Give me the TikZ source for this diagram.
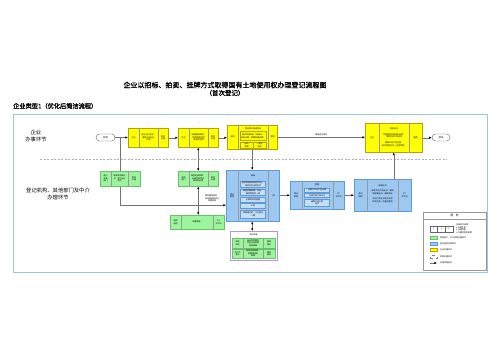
\documentclass[tikz,border=0pt]{standalone}
\usepackage{fontspec}
\setmainfont{Noto Sans CJK SC}
\newfontfamily\cjkbold{Noto Sans CJK SC}[FakeBold=1.5]
\usetikzlibrary{arrows.meta}
\definecolor{fyel}{HTML}{FFFF00}
\definecolor{dyel}{HTML}{B5A300}
\definecolor{fgrn}{HTML}{9CF59C}
\definecolor{dgrn}{HTML}{6CBF6C}
\definecolor{fblu}{HTML}{9DC8F2}
\definecolor{dblu}{HTML}{5E9BD6}
\definecolor{frm}{HTML}{9DC3E6}
\definecolor{lav}{HTML}{B896C8}
\newcommand{\tinyf}{\fontsize{2}{2.5}\selectfont}
\tikzset{
 ybox/.style={draw=dyel,fill=fyel,line width=0.5pt,inner sep=0pt},
 gbox/.style={draw=dgrn,fill=fgrn,line width=0.5pt,inner sep=0pt},
 bbox/.style={draw=dblu,fill=fblu,line width=0.5pt,inner sep=0pt},
 lbox/.style={draw=lav,fill=white,line width=0.6pt,inner sep=0pt},
 cellline/.style={draw=black!40,line width=0.3pt},
 tx/.style={font=\tinyf,align=center,inner sep=0pt},
 ibox/.style={draw=dblu,fill=fblu!60,line width=0.3pt,inner sep=0.3pt,font=\tinyf,align=center},
 yin/.style={draw=dyel,line width=0.3pt,inner sep=0.3pt,font=\tinyf,align=center},
 conn/.style={draw=black!55,line width=0.5pt,-{Latex[length=2.6pt,width=2.2pt,color=black]}},
 dblarrow/.style={draw=black!55,line width=0.5pt,{Latex[length=2.6pt,width=2.2pt,color=black]}-{Latex[length=2.6pt,width=2.2pt,color=black]}},
 lineonly/.style={draw=black!55,line width=0.5pt},
 terminal/.style={draw=black!60,fill=white,rounded corners=3.5pt,line width=0.4pt,minimum width=19pt,minimum height=7pt,inner sep=0pt,font=\fontsize{2.4}{3}\selectfont},
 stmark/.style={font=\fontsize{2.5}{3}\selectfont,text=black!60,inner sep=0pt},
 lane/.style={font=\fontsize{5.3}{6.2}\selectfont,align=center,inner sep=0pt},
 swatch/.style={minimum width=7pt,minimum height=3pt,inner sep=0pt,line width=0.3pt},
 legtx/.style={font=\tinyf,anchor=west,inner sep=0pt,align=left},
 lcell/.style={draw=black!60,minimum width=7.6pt,minimum height=6pt,inner sep=0pt,font=\tinyf}
}
\newcommand{\tribox}[8]{%
  \node[#2,minimum width=#5pt,minimum height=#6pt,anchor=north west] (#1) at (#3,#4) {};
  \draw[cellline] ([xshift=#7pt]#1.north west) -- ([xshift=#7pt]#1.south west);
  \ifdim#8pt>0pt \draw[cellline] ([xshift=-#8pt]#1.north east) -- ([xshift=-#8pt]#1.south east);\fi
}
\begin{document}
\begin{tikzpicture}[x=1pt,y=-1pt]
\useasboundingbox (0,0) rectangle (500,353);
\fill[white] (0,0) rectangle (500,353);
% titles
\node[font=\cjkbold\fontsize{7}{8}\selectfont,inner sep=0pt] (title) at (225,85) {企业以招标、拍卖、挂牌方式取得国有土地使用权办理登记流程图};
\node[font=\cjkbold\fontsize{6.5}{7}\selectfont,inner sep=0pt] (sub) at (225,93) {（首次登记）};
\node[anchor=west,font=\cjkbold\fontsize{6.2}{7}\selectfont,inner sep=0pt] (sec) at (13,106) {企业类型1（优化后简洁流程）};
% frame and lanes
\draw[frm,line width=0.8pt] (13,114) rectangle (487,272);
\draw[black!30,line width=0.4pt,dash pattern=on 2pt off 1.5pt] (40,159) -- (447,159);
\node[lane] (lane1) at (36,136) {企业\\办事环节};
\node[lane] (lane2) at (58,194) {登记机构、其他部门及中介\\办理环节};
% terminals
\node[terminal] (st) at (105.5,137.5) {开始};
\node[terminal,minimum width=18pt] (en) at (441,137.5) {领证};
% markers
\node[stmark] (m1) at (149,124) {*};
\node[stmark] (m2) at (199,124) {*};
\node[stmark] (m3) at (252,120.5) {*};
\node[stmark] (m4) at (393.5,119) {*};
% yellow 1
\tribox{y1}{ybox}{128}{128}{40}{19}{11}{10}
\node[tx] (y1a) at (133.5,137.5) {企业};
\node[tx] (y1b) at (148.5,137.5) {签订出让合同，\\缴纳土地出让\\价款};
\node[tx] (y1c) at (163,137.5) {即时\\办理};
% yellow 2
\tribox{y2}{ybox}{178}{128}{40}{19}{11}{10}
\node[tx] (y2a) at (183.5,137.5) {企业};
\node[tx] (y2b) at (198.5,137.5) {申报缴纳契税，\\取得完税证明\\或减免证明};
\node[tx] (y2c) at (213,137.5) {即时\\办理};
% yellow 3
\tribox{y3}{ybox}{227}{125}{50}{24}{11}{9}
\node[tx] (y3a) at (232.5,137) {申请};
\node[tx] (y3t) at (253,128.5) {登记窗口申请登记};
\node[yin,minimum width=26pt,minimum height=9pt] (y3i) at (253,136) {提交申请材料（申请书、\\身份证明、权属来源证明）};
\node[yin,minimum width=12.5pt,minimum height=6pt] (y3j) at (246.5,145) {现场\\受理};
\node[yin,minimum width=12.5pt,minimum height=6pt] (y3k) at (259.5,145) {一次性\\告知};
\node[tx] (y3c) at (272.5,137) {受理};
% yellow 4
\tribox{y4}{ybox}{365}{123}{57}{29}{14}{13}
\node[tx] (y4a) at (372,137.5) {企业};
\node[tx] (y4t) at (394,128.5) {领取证书};
\node[tx] (y4b) at (394,135.5) {凭受理凭证和身份证明，\\领取不动产权证书};
\node[tx] (y4d) at (394,144.5) {缴纳不动产登记费，\\即可领取证书（当场领取）};
\node[tx] (y4c) at (415.5,137.5) {缴费};
% green 1
\tribox{g1}{gbox}{100}{171}{40}{15}{11}{12}
\node[tx] (g1a) at (105.5,178.5) {国土\\资源\\部门};
\node[tx] (g1b) at (119.5,178.5) {核发成交确认\\书，签订出让\\合同};
\node[tx] (g1c) at (134,178.5) {即时\\办理};
% green 2
\tribox{g2}{gbox}{178}{171}{40}{15}{11}{10}
\node[tx] (g2a) at (183.5,178.5) {税务\\部门};
\node[tx] (g2b) at (198,178.5) {核定征收契税，\\出具完税凭证\\或减免证明};
\node[tx] (g2c) at (213,178.5) {即时\\办理};
% green 3
\tribox{g3}{gbox}{170}{215}{54}{14}{11}{11}
\node[tx] (g3a) at (175.5,222) {测绘\\机构};
\node[tx] (g3b) at (196.5,222) {地籍调查};
\node[tx] (g3c) at (218.5,222) {5个\\工作日};
% blue 1
\tribox{b1}{bbox}{226}{170}{53}{51}{12}{11}
\node[tx] (b1a) at (232,195.5) {登记\\机构};
\node[tx] (b1t) at (253,176) {审核};
\node[ibox,minimum width=25pt,minimum height=6pt] (b1i1) at (253,184) {查验申请材料是否齐全、\\是否符合法定形式};
\node[ibox,minimum width=25pt,minimum height=6pt] (b1i2) at (253,192) {审查权属来源、界址、\\面积等是否一致};
\node[ibox,minimum width=25pt,minimum height=5pt] (b1i3) at (253,199.5) {必要时实地查看};
\node[ibox,minimum width=25pt,minimum height=5pt] (b1i4) at (253,205.5) {公告};
\node[ibox,minimum width=25pt,minimum height=8pt] (b1i5) at (253,214) {审核通过的，予以登记\\入簿};
\node[tx] (b1c) at (273.5,195.5) {5日};
% blue 2
\tribox{b2}{bbox}{290}{181}{54}{28}{12}{11}
\node[tx] (b2a) at (296,195) {登记\\机构};
\node[tx] (b2t) at (317,184.5) {登簿};
\node[ibox,minimum width=25pt,minimum height=4pt] (b2i1) at (317,190) {记载于不动产登记簿};
\node[ibox,minimum width=25pt,minimum height=4pt] (b2i2) at (317,195.5) {生成不动产单元号};
\node[ibox,minimum width=25pt,minimum height=7pt] (b2i3) at (317,202.5) {缮制不动产权\\证书};
\node[tx] (b2c) at (338.5,195) {1个\\工作日};
% blue 3
\tribox{b3}{bbox}{354}{179}{57}{32}{13}{13}
\node[tx] (b3a) at (360.5,195) {登记\\机构};
\node[tx] (b3t) at (382.5,186) {核发证书};
\node[tx] (b3b) at (382.5,192.5) {核发不动产权证书，收回\\原权属证书，通知领证};
\node[tx] (b3d) at (382.5,200.5) {不动产权证书电子证照\\同步生成，供查询使用};
\node[tx] (b3c) at (404.5,195) {1个\\工作日};
% lavender box
\node[lbox,minimum width=47pt,minimum height=29pt,anchor=north west] (lv) at (230,231) {};
\node[tx] (lvt) at (253.5,235) {资料审查};
\tribox{r1}{gbox}{232}{238}{43}{10}{11}{12}
\node[tx] (r1a) at (237.5,243) {测绘\\机构};
\node[tx] (r1b) at (253,243) {出具宗地图及\\界址点坐标等\\测绘成果};
\node[tx] (r1c) at (269,243) {随到\\随办};
\tribox{r2}{gbox}{232}{249}{43}{9}{11}{12}
\node[tx] (r2a) at (237.5,253.5) {不动产\\登记};
\node[tx] (r2b) at (253,253.5) {核查测绘成果，\\权籍调查表\\审核};
\node[tx] (r2c) at (269,253.5) {随到\\随办};
% annotation
\node[tx] (ann) at (212,198.5) {需地籍调查的，\\由测绘机构进行\\地籍调查};
% connectors
\draw[conn] (st.east) -- (st.east -| y1.west);
\draw[lineonly] (g1.north) -- (g1.north |- st.east);
\draw[conn] (y1.east) -- (y1.east -| y2.west);
\draw[conn] (y2.east) -- (y2.east -| y3.west);
\draw[conn] (y3.east) -- node[tx,above=1pt] (lab) {缴纳登记费后} (y3.east -| y4.west);
\draw[conn] (y4.east) -- (y4.east -| en.west);
\draw[dblarrow] (y2.south) -- (g2.north);
\draw[dblarrow] (g2.south) -- (g2.south |- g3.north);
\draw[conn] (y3.south) -- (y3.south |- b1.north);
\draw[conn] (g1.south) |- ([yshift=-9.5pt]b1.west);
\draw[conn] (b1.east |- b2.west) -- (b2.west);
\draw[conn] (b2.east) -- (b2.east -| b3.west);
\draw[conn] (y4.south |- b3.north) -- (y4.south);
\draw[dblarrow] (y3.south |- b1.south) -- (y3.south |- lv.north);
% legend
\node[draw=black!40,fill=white,line width=0.4pt,minimum width=63pt,minimum height=58pt,anchor=north west,inner sep=0pt] (leg) at (423,212) {};
\node[font=\fontsize{2.6}{3}\selectfont,inner sep=0pt] (legt) at (454.5,215.8) {图\quad 例};
\draw[black!40,line width=0.3pt] ([yshift=-7pt]leg.north west) -- ([yshift=-7pt]leg.north east);
\node[lcell] (lc1) at (433.8,229) {1};
\node[lcell] (lc2) at (441.4,229) {2};
\node[lcell] (lc3) at (449,229) {3};
\node[legtx] (lct) at (456,228.5) {办事环节说明：\\1.办理主体\\2.办理内容\\3.办理时限及收费};
\node[swatch,gbox,line width=0.3pt] (sw1) at (433.5,238) {};
\node[legtx] (sw1t) at (440,238) {其他部门、中介机构办理环节};
\node[swatch,bbox,line width=0.3pt] (sw2) at (433.5,244) {};
\node[legtx] (sw2t) at (440,244) {登记机构办理环节};
\node[swatch,ybox,line width=0.3pt] (sw3) at (433.5,250) {};
\node[legtx] (sw3t) at (440,250) {企业办理环节};
\node[swatch,draw=black!50,dashed,line width=0.3pt] (sw4) at (433.5,257) {};
\node[legtx] (sw4t) at (440,257) {并联办理环节};
\coordinate (a1) at (430,263);
\coordinate (a2) at (437,263);
\draw[conn] (a1) -- (a2);
\node[legtx] (sw5t) at (440,263) {办理流程走向};
\end{tikzpicture}
\end{document}
